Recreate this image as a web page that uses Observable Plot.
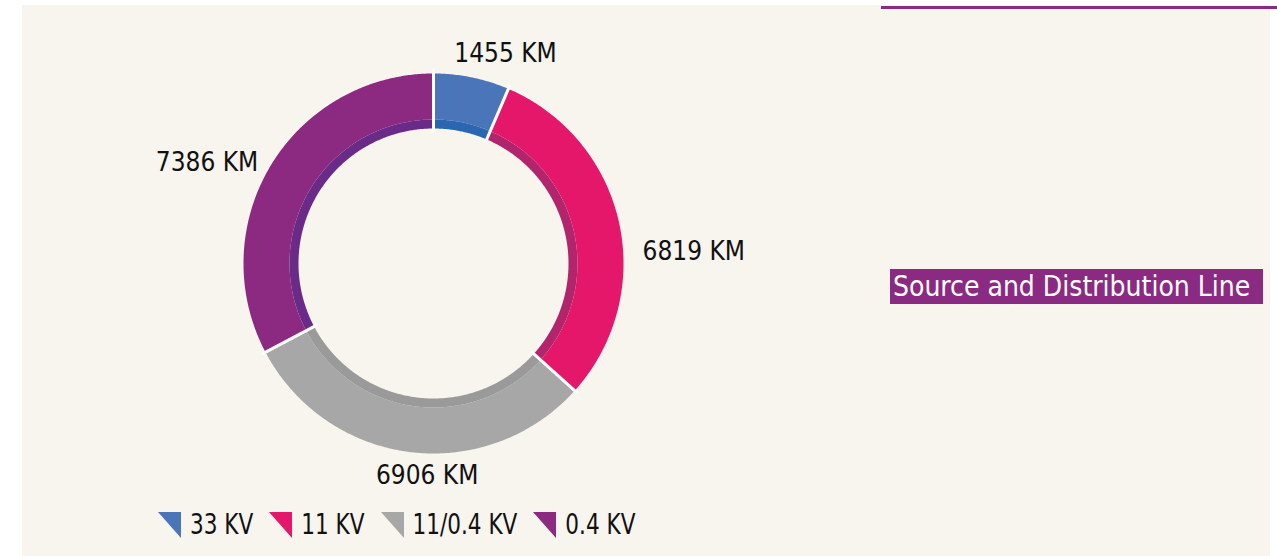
<!DOCTYPE html>
<html><head><meta charset="utf-8">
<script src="https://cdn.jsdelivr.net/npm/d3@7"></script>
<script src="https://cdn.jsdelivr.net/npm/@observablehq/plot@0.6"></script>
<style>
body{margin:0;background:#fff;width:1277px;height:556px;position:relative;overflow:hidden;font-family:"Liberation Sans Narrow","DejaVu Sans Condensed",sans-serif;}
#bg{position:absolute;left:22px;top:5px;width:1248px;height:551px;background:#f8f4ee;}
#chart{position:absolute;left:0;top:0;width:1277px;height:500px;}
#rule{position:absolute;left:881px;top:6px;width:396px;height:3px;background:#8b2a82;}
#title{position:absolute;left:890px;top:269px;width:373px;height:35px;background:#8b2a82;color:#fff;font-size:28px;line-height:35px;padding-left:3px;box-sizing:border-box;white-space:nowrap;}
#legend{position:absolute;left:158px;top:500px;height:50px;display:flex;align-items:center;font-size:24px;color:#111;}
.item{display:flex;align-items:center;margin-right:16px;}
.item svg{margin-right:9px;}
.item span{display:inline-block;transform:scaleY(1.15);}
</style>
</head><body>
<div id="bg"></div>
<div id="rule"></div>
<div id="chart"></div>
<div id="title">Source and Distribution Line</div>
<div id="legend"></div>
<script>
const categories = ["33 KV", "11 KV", "11/0.4 KV", "0.4 KV"];
const lengths = [1455, 6819, 6906, 7386];
const unit = "KM";
const sliceColors = ["#4a75b9", "#e5176b", "#a6a7a6", "#8b2a80"];
const bandColors = ["#2b67b0", "#b2256c", "#999a99", "#6a2b88"];

const total = d3.sum(lengths);
const R = 190, Rb = 144, Ri = 135;
let acc = 0;
const slices = categories.map((c, i) => {
  const a0 = acc / total * 2 * Math.PI; acc += lengths[i];
  const a1 = acc / total * 2 * Math.PI;
  return {category: c, value: lengths[i], a0, a1, mid: (a0 + a1) / 2};
});
// angle measured clockwise from 12 o'clock
const pt = (r, a) => [r * Math.sin(a), -r * Math.cos(a)];
function ring(r0, r1, a0, a1) {
  const n = Math.max(2, Math.ceil((a1 - a0) / (Math.PI / 360)));
  const outer = d3.range(n + 1).map(k => pt(r1, a0 + (a1 - a0) * k / n));
  const inner = d3.range(n + 1).map(k => pt(r0, a1 - (a1 - a0) * k / n));
  return [...outer, ...inner, outer[0]];
}
const feats = [];
slices.forEach(s => {
  feats.push({type: "Feature", properties: {key: s.category}, geometry: {type: "Polygon", coordinates: [ring(Rb, R, s.a0, s.a1)]}});
  feats.push({type: "Feature", properties: {key: s.category + " inner"}, geometry: {type: "Polygon", coordinates: [ring(Ri, Rb, s.a0, s.a1)]}});
});
const seps = slices.map(s => ({type: "LineString", coordinates: [pt(Ri - 3, s.a0), pt(R + 3, s.a0)]}));

const nudge = {"33 KV": [29, 0], "11 KV": [0, 34], "11/0.4 KV": [20, 0], "0.4 KV": [8, 10]};
const labelR = R + 24;
const labelMarks = slices.map(s => {
  const sx = Math.sin(s.mid);
  const anchor = Math.abs(sx) < 0.4 ? "middle" : (sx > 0 ? "start" : "end");
  const [dx, dy] = nudge[s.category] || [0, 0];
  return Plot.text([s], {
    x: d => pt(labelR, d.mid)[0], y: d => pt(labelR, d.mid)[1],
    text: d => `${d.value} ${unit}`, textAnchor: anchor, dx, dy,
    fontSize: 26, fill: "#111", fontFamily: "Liberation Sans Narrow, DejaVu Sans Condensed, sans-serif"
  });
});

const chart = Plot.plot({
  width: 1277, height: 500,
  marginLeft: 243, marginRight: 654, marginTop: 73, marginBottom: 47,
  style: {background: "transparent", overflow: "visible"},
  projection: {type: "identity", reflectY: true, clip: false,
    domain: {type: "MultiPoint", coordinates: [[-R, -R], [R, R]]}},
  color: {domain: [...categories, ...categories.map(c => c + " inner")], range: [...sliceColors, ...bandColors]},
  marks: [
    Plot.geo(feats, {fill: d => d.properties.key}),
    Plot.geo(seps, {stroke: "#ffffff", strokeWidth: 3}),
    ...labelMarks
  ]
});
document.getElementById("chart").appendChild(chart);

const legend = document.getElementById("legend");
categories.forEach((c, i) => {
  const it = document.createElement("div");
  it.className = "item";
  it.innerHTML = `<svg width="23" height="26"><polygon points="0,0 23,0 23,26" fill="${sliceColors[i]}"/></svg><span>${c}</span>`;
  legend.appendChild(it);
});
</script>
</body></html>
